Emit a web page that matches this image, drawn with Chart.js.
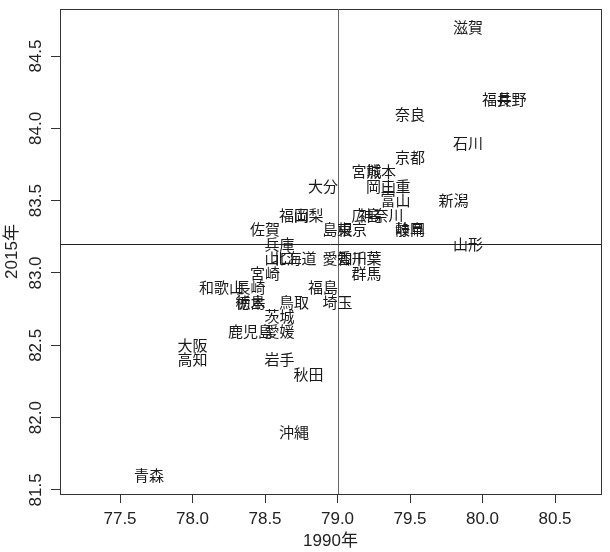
<!DOCTYPE html>
<html>
<head>
<meta charset="utf-8">
<script src="https://cdn.jsdelivr.net/npm/chart.js@4.4.1/dist/chart.umd.min.js"></script>
<style>
  html, body { margin: 0; padding: 0; background: #fff; }
  #wrap { width: 610px; height: 552px; }
</style>
</head>
<body>
<div id="wrap"><canvas id="chart"></canvas></div>
<script>
// --- Data ---
const prefectures = [
  '北海道', '青森', '岩手', '宮城', '秋田', '山形', '福島', '茨城', '栃木', '群馬',
  '埼玉', '千葉', '東京', '神奈川', '新潟', '富山', '石川', '福井', '山梨', '長野',
  '岐阜', '静岡', '愛知', '三重', '滋賀', '京都', '大阪', '兵庫', '奈良', '和歌山',
  '鳥取', '島根', '岡山', '広島', '山口', '徳島', '香川', '愛媛', '高知', '福岡',
  '佐賀', '長崎', '熊本', '大分', '宮崎', '鹿児島', '沖縄'
];
const life1990 = [
  78.7, 77.7, 78.6, 79.2, 78.8, 79.9, 78.9, 78.6, 78.4, 79.2,
  79.0, 79.2, 79.1, 79.3, 79.8, 79.4, 79.9, 80.1, 78.8, 80.2,
  79.5, 79.5, 79.0, 79.4, 79.9, 79.5, 78.0, 78.6, 79.5, 78.2,
  78.7, 79.0, 79.3, 79.2, 78.6, 78.4, 79.1, 78.6, 78.0, 78.7,
  78.5, 78.4, 79.3, 78.9, 78.5, 78.4, 78.7
];
const life2015 = [
  83.1, 81.6, 82.4, 83.7, 82.3, 83.2, 82.9, 82.7, 82.8, 83.0,
  82.8, 83.1, 83.3, 83.4, 83.5, 83.5, 83.9, 84.2, 83.4, 84.2,
  83.3, 83.3, 83.1, 83.6, 84.7, 83.8, 82.5, 83.2, 84.1, 82.9,
  82.8, 83.3, 83.6, 83.4, 83.1, 82.8, 83.1, 82.6, 82.4, 83.4,
  83.3, 82.9, 83.7, 83.6, 83.0, 82.6, 81.9
];
const mean1990 = 79.0;
const mean2015 = 83.2;

const xTicks = [77.5, 78.0, 78.5, 79.0, 79.5, 80.0, 80.5];
const yTicks = [81.5, 82.0, 82.5, 83.0, 83.5, 84.0, 84.5];
const xTitle = '1990年';
const yTitle = '2015年';

// --- Chart ---
const FONT = '"Liberation Sans", "Noto Sans CJK JP", sans-serif';
const LABEL_FONT = '15px "Noto Sans CJK JP", sans-serif';

const points = prefectures.map((name, i) => ({ x: life1990[i], y: life2015[i] }));

// box, mean lines, y tick labels (rotated like R) and the prefecture names
const overlay = {
  id: 'overlay',
  afterDraw(chart) {
    const { ctx, chartArea: a } = chart;
    const xs = chart.scales.x;
    const ys = chart.scales.y;
    ctx.save();

    // frame
    ctx.strokeStyle = '#333';
    ctx.lineWidth = 1;
    ctx.strokeRect(a.left + 0.5, a.top + 0.5, a.right - a.left, a.bottom - a.top);

    // mean lines
    const mx = Math.round(xs.getPixelForValue(mean1990));
    ctx.strokeStyle = '#666';
    ctx.beginPath();
    ctx.moveTo(mx + 0.5, a.top);
    ctx.lineTo(mx + 0.5, a.bottom);
    ctx.stroke();
    const my = Math.round(ys.getPixelForValue(mean2015));
    ctx.strokeStyle = '#222';
    ctx.beginPath();
    ctx.moveTo(a.left, my + 0.5);
    ctx.lineTo(a.right, my + 0.5);
    ctx.stroke();

    // y tick labels, rotated
    ctx.fillStyle = '#222';
    ctx.font = '17px ' + FONT;
    ctx.textAlign = 'center';
    ctx.textBaseline = 'middle';
    ys.ticks.forEach(t => {
      const py = ys.getPixelForValue(t.value);
      ctx.save();
      ctx.translate(36, py);
      ctx.rotate(-Math.PI / 2);
      ctx.fillText(t.value.toFixed(1), 0, 0);
      ctx.restore();
    });

    // prefecture names at their points
    ctx.font = LABEL_FONT;
    ctx.fillStyle = '#1a1a1a';
    prefectures.forEach((name, i) => {
      const px = xs.getPixelForValue(life1990[i]);
      const py = ys.getPixelForValue(life2015[i]);
      ctx.fillText(name, px, py);
    });
    ctx.restore();
  }
};

new Chart(document.getElementById('chart'), {
  type: 'scatter',
  data: {
    datasets: [{
      data: points,
      pointRadius: 0,
      pointHoverRadius: 0
    }]
  },
  options: {
    responsive: true,
    maintainAspectRatio: false,
    animation: false,
    layout: { padding: { top: 9, right: 9, left: 0, bottom: 0 } },
    plugins: {
      legend: { display: false },
      tooltip: { enabled: false }
    },
    scales: {
      x: {
        type: 'linear',
        min: 77.086,
        max: 80.817,
        afterBuildTicks: s => { s.ticks = xTicks.map(v => ({ value: v })); },
        afterFit: s => { s.height = 58; },
        grid: { drawOnChartArea: false, tickLength: 9, color: '#333' },
        border: { color: '#333' },
        ticks: {
          font: { family: FONT, size: 17 },
          color: '#222',
          padding: 6,
          maxRotation: 0,
          callback: v => v.toFixed(1)
        },
        title: {
          display: true,
          text: xTitle,
          font: { family: FONT, size: 17 },
          color: '#222',
          padding: { top: 0, bottom: 0 }
        }
      },
      y: {
        type: 'linear',
        min: 81.472,
        max: 84.825,
        afterBuildTicks: s => { s.ticks = yTicks.map(v => ({ value: v })); },
        afterFit: s => { s.width = 60; },
        grid: { drawOnChartArea: false, tickLength: 9, color: '#333' },
        border: { color: '#333' },
        ticks: { display: false },
        title: {
          display: true,
          text: yTitle,
          font: { family: FONT, size: 17 },
          color: '#222',
          padding: { top: 2, bottom: 0 }
        }
      }
    }
  },
  plugins: [overlay]
});
</script>
</body>
</html>
